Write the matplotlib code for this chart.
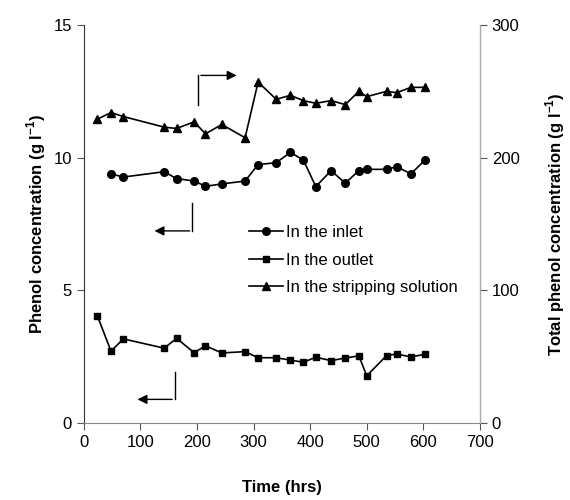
import matplotlib.pyplot as plt

plt.rcParams['font.family'] = ['Liberation Sans', 'DejaVu Sans']
plt.rcParams['mathtext.fontset'] = 'custom'
plt.rcParams['mathtext.rm'] = 'Liberation Sans'
plt.rcParams['mathtext.bf'] = 'Liberation Sans:bold'

# time points (hrs)
time = [24, 48, 70, 142, 164, 195, 215, 244, 285, 308, 340,
        365, 388, 410, 437, 462, 486, 500, 535, 553, 578, 603]

# phenol in the inlet (g/l), no sample at the first time point
inlet = [9.39, 9.27, 9.47, 9.21, 9.12, 8.92, 9.01, 9.12, 9.74, 9.81,
         10.20, 9.91, 8.91, 9.51, 9.04, 9.51, 9.56, 9.56, 9.66, 9.39, 9.91]

# phenol in the outlet (g/l)
outlet = [4.04, 2.71, 3.17, 2.82, 3.19, 2.65, 2.91, 2.64, 2.69, 2.46, 2.46,
          2.37, 2.29, 2.48, 2.35, 2.45, 2.53, 1.78, 2.54, 2.60, 2.49, 2.59]

# total phenol in the stripping solution (g/l), right axis
stripping = [229, 234, 231, 223, 222, 227, 218, 225, 215, 257, 244,
             247, 243, 241, 243, 240, 250, 246, 250, 249, 253, 253]

fig = plt.figure(figsize=(5.7, 5.0), dpi=100)
ax = fig.add_axes([0.147, 0.154, 0.695, 0.796])
ax2 = ax.twinx()

ax.plot(time[1:], inlet, color='black', lw=1.2, marker='o', ms=5.5,
        label='In the inlet')
ax.plot(time, outlet, color='black', lw=1.2, marker='s', ms=5,
        label='In the outlet')
ax2.plot(time, stripping, color='black', lw=1.2, marker='^', ms=5.5,
         label='In the stripping solution')
# dummy line so all three entries share one legend on the left axis
ax.plot([], [], color='black', lw=1.2, marker='^', ms=5.5,
        label='In the stripping solution')

ax.set_xlim(0, 700)
ax.set_ylim(0, 15)
ax2.set_ylim(0, 300)
ax.set_xticks(range(0, 701, 100))
ax.set_yticks([0, 5, 10, 15])
ax2.set_yticks([0, 100, 200, 300])

for a in (ax, ax2):
    a.spines['top'].set_visible(False)
    a.tick_params(labelsize=12, direction='out', length=5, color='#555555')
ax.spines['left'].set_color('#333333')
ax.spines['bottom'].set_color('#888888')
ax2.spines['left'].set_visible(False)
ax2.spines['right'].set_color('#aaaaaa')
ax2.spines['bottom'].set_visible(False)

ax.set_xlabel('Time (hrs)', fontsize=12, fontweight='bold', labelpad=22)
ax.set_ylabel('Phenol concentration (g l$^{\\mathbf{-1}}$)', fontsize=12,
              fontweight='bold', labelpad=4)
ax2.set_ylabel('Total phenol concentration (g l$^{\\mathbf{-1}}$)', fontsize=12,
               fontweight='bold', labelpad=17)

# L-shaped arrows pointing to the axis each series belongs to
arrow = dict(arrowstyle='-|>', color='black', lw=1, mutation_scale=14)
ax.plot([202, 202], [12.0, 13.1], color='black', lw=1)
ax.annotate('', xy=(275, 13.1), xytext=(202, 13.1), arrowprops=arrow)
ax.plot([192, 192], [8.3, 7.24], color='black', lw=1)
ax.annotate('', xy=(120, 7.24), xytext=(192, 7.24), arrowprops=arrow)
ax.plot([161, 161], [1.91, 0.89], color='black', lw=1)
ax.annotate('', xy=(90, 0.89), xytext=(161, 0.89), arrowprops=arrow)

ax.legend(loc='upper left', bbox_to_anchor=(0.38, 0.535), frameon=False,
          fontsize=12, handlelength=2.0, handletextpad=0.2, labelspacing=0.75)

fig.savefig('out.png', dpi=100)
